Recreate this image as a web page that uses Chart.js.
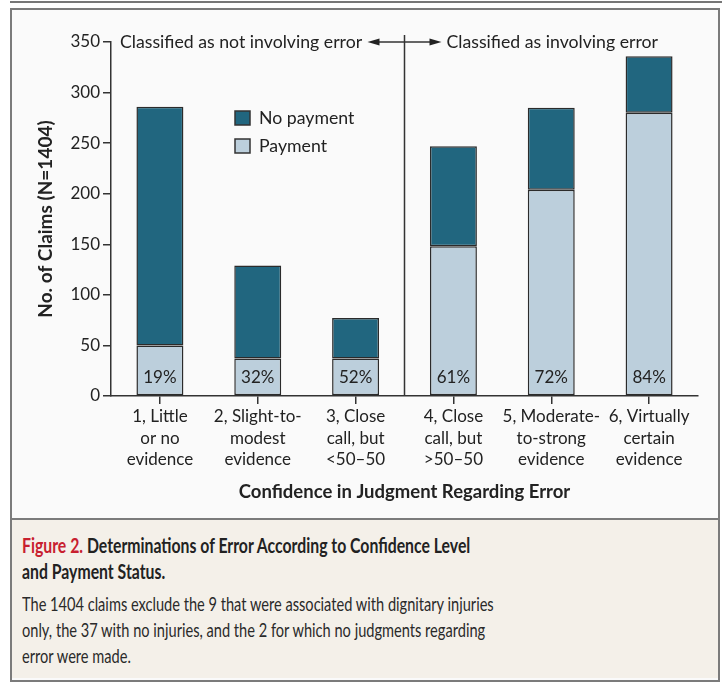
<!DOCTYPE html>
<html>
<head>
<meta charset="utf-8">
<script src="https://cdn.jsdelivr.net/npm/chart.js@4.4.1/dist/chart.umd.min.js"></script>
<style>
  body { margin: 0; background: #fff; font-family: Lato, sans-serif; color: #222; }
  #topRule { position: absolute; left: 10px; top: 1px; width: 712px; height: 2px; background: #777; }
  #panel { position: absolute; left: 10px; top: 8px; width: 706px; height: 670px; border: 2px solid #7b7b7b; background: #fafafa; }
  #chartBox { width: 706px; height: 508px; }
  #caption { height: 160px; border-top: 2px solid #7b7b7b; background: #f4f0e9; box-sizing: border-box; padding: 12px 0 0 10px; }
  .lines { white-space: nowrap; font-size: 20px; line-height: 26px; }
  .head { font-weight: bold; color: #222; transform: scaleX(0.79); transform-origin: 0 0; }
  .fig { color: #c8202f; }
  .body { margin-top: 6px; color: #2a2a2a; transform: scaleX(0.73); transform-origin: 0 0; }
</style>
</head>
<body>
<div id="topRule"></div>
<div id="panel">
  <div id="chartBox"><canvas id="claimsChart" width="706" height="508"></canvas></div>
  <div id="caption">
    <div class="lines">
      <div class="head"><span class="fig">Figure 2.</span> Determinations of Error According to Confidence Level</div>
      <div class="head">and Payment Status.</div>
      <div class="body">The 1404 claims exclude the 9 that were associated with dignitary injuries<br>only, the 37 with no injuries, and the 2 for which no judgments regarding<br>error were made.</div>
    </div>
  </div>
</div>
<script>
const categories = [
  ['1, Little', 'or no', 'evidence'],
  ['2, Slight-to-', 'modest', 'evidence'],
  ['3, Close', 'call, but', '<50\u201350'],
  ['4, Close', 'call, but', '>50\u201350'],
  ['5, Moderate-', 'to-strong', 'evidence'],
  ['6, Virtually', 'certain', 'evidence']
];
const payment = [50, 37, 37, 148, 204, 280];
const noPayment = [236, 92, 40, 99, 81, 56];
const pctLabels = ['19%', '32%', '52%', '61%', '72%', '84%'];
const yTicks = [0, 50, 100, 150, 200, 250, 300, 350];

const DARK = '#21667f';
const LIGHT = '#bccfdc';
const INK = '#222';
const FONT = 'Lato, sans-serif';

// arrows, divider, legend and percentages
const annotate = {
  id: 'annotate',
  afterDraw(chart) {
    const { ctx, chartArea, scales: { x, y } } = chart;
    ctx.save();
    ctx.fillStyle = INK;
    ctx.font = '17px ' + FONT;
    ctx.textAlign = 'center';
    ctx.textBaseline = 'middle';
    pctLabels.forEach((t, i) => ctx.fillText(t, x.getPixelForValue(i), y.getPixelForValue(0) - 18));

    const divX = (x.getPixelForValue(2) + x.getPixelForValue(3)) / 2;
    const topY = y.getPixelForValue(350);
    ctx.strokeStyle = '#333';
    ctx.lineWidth = 1.5;
    ctx.beginPath();
    ctx.moveTo(divX, topY - 7);
    ctx.lineTo(divX, chartArea.bottom);
    ctx.stroke();

    const lTip = divX - 37, rTip = divX + 37;
    ctx.beginPath();
    ctx.moveTo(lTip + 6, topY);
    ctx.lineTo(rTip - 6, topY);
    ctx.stroke();
    ctx.fillStyle = '#222';
    ctx.beginPath();
    ctx.moveTo(lTip, topY); ctx.lineTo(lTip + 12, topY - 3.5); ctx.lineTo(lTip + 12, topY + 3.5); ctx.closePath();
    ctx.fill();
    ctx.beginPath();
    ctx.moveTo(rTip, topY); ctx.lineTo(rTip - 12, topY - 3.5); ctx.lineTo(rTip - 12, topY + 3.5); ctx.closePath();
    ctx.fill();

    ctx.fillStyle = INK;
    ctx.font = '17.7px ' + FONT;
    ctx.textAlign = 'left';
    ctx.fillText('Classified as not involving error', chartArea.left + 9, topY);
    ctx.fillText('Classified as involving error', rTip + 5, topY);

    // legend, top entry first
    const items = chart.data.datasets.slice().reverse();
    items.forEach((ds, i) => {
      const bx = chartArea.left + 124, by = chartArea.top + 69 + i * 28;
      ctx.fillStyle = ds.backgroundColor;
      ctx.fillRect(bx, by, 15, 14);
      ctx.strokeStyle = '#333';
      ctx.lineWidth = 1.5;
      ctx.strokeRect(bx, by, 15, 14);
      ctx.fillStyle = INK;
      ctx.fillText(ds.label, bx + 24, by + 7);
    });
    ctx.restore();
  }
};

new Chart(document.getElementById('claimsChart'), {
  type: 'bar',
  data: {
    labels: categories,
    datasets: [
      { label: 'Payment', data: payment, backgroundColor: LIGHT },
      { label: 'No payment', data: noPayment, backgroundColor: DARK }
    ]
  },
  options: {
    responsive: false,
    animation: false,
    layout: { padding: { top: 32, right: 20, left: 0, bottom: 0 } },
    datasets: {
      bar: { borderColor: '#2b2b2b', borderWidth: 1.5, borderSkipped: false, barPercentage: 0.48, categoryPercentage: 1 }
    },
    plugins: { legend: { display: false }, tooltip: { enabled: false } },
    scales: {
      x: {
        stacked: true,
        border: { color: '#333', width: 1.5 },
        grid: { offset: false, drawOnChartArea: false, tickLength: 8, color: '#333', lineWidth: 1.5 },
        ticks: { color: INK, padding: 2, maxRotation: 0, autoSkip: false, font: { family: FONT, size: 17, lineHeight: 1.27 } },
        title: { display: true, text: 'Confidence in Judgment Regarding Error', color: INK,
                 font: { family: FONT, size: 18.5, weight: 'bold' }, padding: { top: 0, bottom: 15 } },
        afterFit: s => { s.height = 122; }
      },
      y: {
        stacked: true,
        min: 0, max: 350,
        afterBuildTicks: s => { s.ticks = yTicks.map(v => ({ value: v })); },
        border: { color: '#333', width: 1.5 },
        grid: { drawOnChartArea: false, tickLength: 8, color: '#333', lineWidth: 1.5 },
        ticks: { color: INK, padding: 3, font: { family: FONT, size: 17 } },
        title: { display: true, text: 'No. of Claims (N=1404)', color: INK,
                 font: { family: FONT, size: 19, weight: 'bold' }, padding: { top: 22, bottom: 0 } },
        afterFit: s => { s.width = 99; }
      }
    }
  },
  plugins: [annotate]
});
</script>
</body>
</html>
